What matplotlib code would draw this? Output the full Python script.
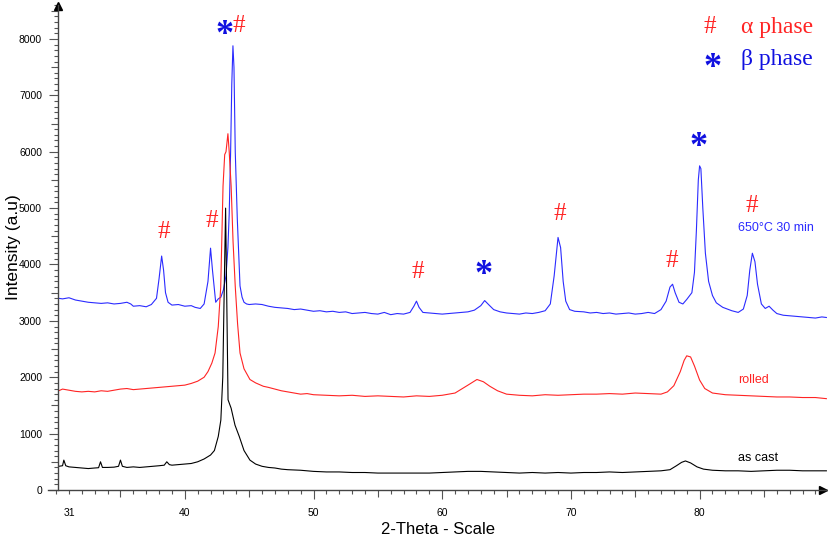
import matplotlib
matplotlib.use("Agg")
import matplotlib.pyplot as plt
from matplotlib.ticker import FixedLocator, MultipleLocator, FuncFormatter
from matplotlib.transforms import offset_copy

# XRD patterns (2-theta in degrees, intensity in a.u.)
heat_x = [30.2, 30.5, 31, 31.5, 32, 32.5, 33, 33.5, 34, 34.5, 35, 35.5, 35.8, 36, 36.5, 37,
          37.4, 37.8, 38.0, 38.2, 38.35, 38.5, 38.7, 39, 39.5, 40, 40.5, 40.8, 41.2, 41.5, 41.8,
          42.0, 42.15, 42.4, 42.6, 42.8, 43.0, 43.2, 43.35, 43.45, 43.56, 43.65, 43.74, 43.82,
          43.92, 44.08, 44.29, 44.45, 44.6, 44.8, 45, 45.5, 46, 46.5, 47, 47.5, 48, 48.5, 49,
          49.5, 50, 50.5, 51, 51.5, 52, 52.5, 53, 53.5, 54, 54.5, 55, 55.5, 56, 56.5, 57, 57.5,
          57.8, 58.0, 58.2, 58.5, 59, 59.5, 60, 60.5, 61, 61.5, 62, 62.5, 63, 63.3, 63.6, 64,
          64.5, 65, 65.5, 66, 66.5, 67, 67.5, 68, 68.4, 68.7, 69.0, 69.2, 69.4, 69.6, 69.9, 70.3,
          71, 71.5, 72, 72.5, 73, 73.5, 74, 74.5, 75, 75.5, 76, 76.5, 77, 77.4, 77.7, 77.9, 78.1,
          78.4, 78.7, 79.0, 79.4, 79.6, 79.75, 79.9, 80.0, 80.1, 80.25, 80.45, 80.7, 81, 81.3,
          81.8, 82.5, 83, 83.4, 83.7, 83.9, 84.1, 84.3, 84.5, 84.8, 85.1, 85.4, 85.7, 86, 86.5,
          87, 87.5, 88, 88.5, 89, 89.5, 89.85]
heat_y = [3400, 3390, 3410, 3370, 3350, 3330, 3320, 3310, 3320, 3300, 3310, 3330, 3300, 3260,
          3270, 3250, 3290, 3400, 3750, 4150, 3900, 3500, 3330, 3280, 3290, 3260, 3270, 3240,
          3220, 3300, 3700, 4290, 3900, 3330, 3390, 3420, 3550, 3800, 4300, 4900, 6000, 7200,
          7880, 7500, 6000, 4800, 3620, 3420, 3330, 3300, 3290, 3300, 3290, 3260, 3240, 3230,
          3220, 3200, 3210, 3190, 3170, 3180, 3160, 3170, 3150, 3160, 3130, 3140, 3150, 3130,
          3120, 3150, 3110, 3130, 3120, 3150, 3260, 3350, 3240, 3150, 3140, 3130, 3120, 3130,
          3140, 3150, 3160, 3190, 3270, 3360, 3290, 3200, 3160, 3140, 3130, 3120, 3140, 3130,
          3150, 3180, 3300, 3800, 4480, 4300, 3700, 3350, 3200, 3170, 3160, 3140, 3150, 3130,
          3140, 3120, 3130, 3140, 3120, 3130, 3150, 3130, 3200, 3350, 3600, 3650, 3500, 3330,
          3300, 3380, 3500, 3860, 4600, 5500, 5750, 5700, 5000, 4200, 3700, 3450, 3320, 3240,
          3180, 3150, 3210, 3450, 3900, 4200, 4050, 3650, 3300, 3220, 3260, 3190, 3130, 3100,
          3090, 3080, 3070, 3060, 3050, 3070, 3060]

rolled_x = [30.2, 30.5, 31, 31.5, 32, 32.5, 33, 33.5, 34, 34.5, 35, 35.5, 36, 36.5, 37, 37.5,
            38, 38.5, 39, 39.5, 40, 40.5, 41, 41.5, 41.8, 42.1, 42.35, 42.6, 42.79, 42.97, 43.1,
            43.2, 43.35, 43.45, 43.6, 43.75, 43.92, 44.1, 44.29, 44.6, 45.06, 45.5, 46.1, 46.5,
            47, 47.5, 48, 48.5, 49, 49.5, 50, 51, 52, 53, 54, 55, 56, 57, 58, 59, 60, 61, 61.5,
            62, 62.7, 63.2, 63.7, 64.3, 65, 66, 67, 68, 69, 70, 71, 72, 73, 74, 75, 76, 77, 77.5,
            78, 78.5, 78.8, 79.0, 79.3, 79.6, 80, 80.4, 81, 82, 83, 84, 85, 86, 87, 88, 89, 89.85]
rolled_y = [1760, 1790, 1770, 1750, 1740, 1750, 1740, 1760, 1750, 1770, 1790, 1800, 1780, 1790,
            1800, 1810, 1820, 1830, 1840, 1850, 1860, 1890, 1930, 2000, 2100, 2250, 2430, 2900,
            3600, 5390, 5950, 6000, 6320, 6000, 5390, 4400, 3610, 2950, 2430, 2150, 1960, 1900,
            1840, 1820, 1790, 1760, 1740, 1720, 1700, 1710, 1690, 1680, 1670, 1680, 1660, 1670,
            1660, 1650, 1670, 1660, 1680, 1720, 1790, 1860, 1960, 1920, 1840, 1760, 1700, 1680,
            1670, 1690, 1680, 1690, 1700, 1700, 1710, 1700, 1720, 1710, 1700, 1740, 1850, 2100,
            2300, 2380, 2360, 2200, 1950, 1800, 1720, 1690, 1680, 1670, 1660, 1650, 1650, 1640,
            1640, 1620]

cast_x = [30.2, 30.5, 30.6, 30.75, 31, 31.5, 32, 32.5, 33, 33.3, 33.45, 33.6, 34, 34.5, 34.85,
          35.0, 35.15, 35.5, 36, 36.5, 37, 37.5, 38, 38.4, 38.6, 38.8, 39, 39.5, 40, 40.5, 41,
          41.5, 42, 42.3, 42.6, 42.8, 42.95, 43.08, 43.17, 43.27, 43.36, 43.6, 43.9, 44.23, 44.6,
          45.06, 45.5, 46, 46.5, 47, 47.5, 48, 49, 50, 51, 52, 53, 54, 55, 56, 57, 58, 59, 60,
          61, 62, 63, 64, 65, 66, 67, 68, 69, 70, 71, 72, 73, 74, 75, 76, 77, 77.7, 78.2, 78.6,
          78.9, 79.3, 79.8, 80.3, 81, 82, 83, 84, 85, 86, 87, 88, 89, 89.85]
cast_y = [420, 430, 530, 430, 410, 400, 390, 380, 390, 395, 500, 400, 400, 405, 420, 530, 420,
          400, 410, 400, 410, 420, 430, 440, 500, 450, 440, 450, 460, 470, 500, 550, 620, 700,
          950, 1240, 2000, 3800, 5000, 3200, 1600, 1450, 1150, 950, 700, 530, 460, 420, 400, 390,
          370, 360, 350, 330, 320, 320, 310, 310, 300, 300, 300, 300, 300, 310, 320, 330, 330,
          320, 310, 300, 310, 300, 310, 300, 310, 310, 320, 310, 320, 330, 340, 360, 430, 490,
          515, 480, 410, 370, 350, 340, 340, 330, 340, 350, 350, 340, 340, 340]

# phase markers: (2-theta, intensity) where the symbol sits
alpha_x = [38.4, 42.1, 44.2, 58.1, 69.15, 77.85, 84.07]
alpha_y = [4570, 4770, 8230, 3875, 4890, 4070, 5036]
beta_x = [43.1, 63.25, 79.95]
beta_y = [8220, 3965, 6233]

blue = "#2b2bff"
red = "#ff2424"
star_blue = "#1010e0"

fig = plt.figure(figsize=(8.29, 5.46), dpi=100)
ax = fig.add_axes([0.0579, 0.1026, 0.9397, 0.8883])

ax.plot(heat_x, heat_y, color=blue, lw=0.8)
ax.plot(rolled_x, rolled_y, color=red, lw=0.8)
ax.plot(cast_x, cast_y, color="black", lw=0.8)

# the asterisk glyph sits high in its box, so push it down a little
star_tr = offset_copy(ax.transData, fig=fig, x=0, y=-6.5, units="points")

for x, y in zip(alpha_x, alpha_y):
    ax.text(x, y, "#", color=red, fontsize=18, family="Liberation Serif", ha="center", va="center")
for x, y in zip(beta_x, beta_y):
    ax.text(x, y, "*", color=star_blue, fontsize=26, family="Liberation Serif", weight="bold",
            ha="center", va="center", transform=star_tr)

ax.text(85.9, 4645, "650°C 30 min", color=blue, fontsize=9, family="Liberation Sans",
        ha="center", va="center")
ax.text(84.2, 1956, "rolled", color=red, fontsize=9, family="Liberation Sans", ha="center", va="center")
ax.text(84.56, 564, "as cast", color="black", fontsize=9, family="Liberation Sans", ha="center", va="center")

# legend written as text
ax.text(80.8, 8213, "#", color=red, fontsize=18, family="Liberation Serif", ha="center", va="center")
ax.text(83.19, 8213, "α phase", color=red, fontsize=17, family="Liberation Serif", ha="left", va="center")
ax.text(81.0, 7644, "*", color=star_blue, fontsize=26, family="Liberation Serif", weight="bold",
        ha="center", va="center", transform=star_tr)
ax.text(83.19, 7644, "β phase", color=star_blue, fontsize=17, family="Liberation Serif", ha="left", va="center")

ax.set_xlim(29.37, 89.9)
ax.set_ylim(0, 8604)

for s in ["top", "right"]:
    ax.spines[s].set_visible(False)
ax.spines["left"].set_position(("data", 30.15))
for s in ["left", "bottom"]:
    ax.spines[s].set_color("#444444")
    ax.spines[s].set_linewidth(1.0)

ax.plot(0.995, 0, ">", color="black", ms=6, transform=ax.get_yaxis_transform(), clip_on=False)
ax.plot(30.15, 0.998, "^", color="black", ms=6, transform=ax.get_xaxis_transform(), clip_on=False)

xmaj = [31, 35, 40, 45, 50, 55, 60, 65, 70, 75, 80, 85]
ax.xaxis.set_major_locator(FixedLocator(xmaj))
ax.xaxis.set_minor_locator(MultipleLocator(1))
ax.xaxis.set_major_formatter(FuncFormatter(lambda v, p: "%d" % v if (v == 31 or v % 10 == 0) else ""))
ax.yaxis.set_major_locator(MultipleLocator(500))
ax.yaxis.set_minor_locator(MultipleLocator(100))
ax.yaxis.set_major_formatter(FuncFormatter(lambda v, p: "%d" % v if v % 1000 == 0 else ""))

ax.tick_params(which="both", direction="out", color="#555555", width=0.8)
ax.tick_params(which="major", length=6.5, labelsize=7.5)
ax.tick_params(axis="x", which="major", pad=6.5)
ax.tick_params(axis="y", which="major", pad=5)
ax.tick_params(which="minor", length=2.9)
for lab in ax.get_xticklabels() + ax.get_yticklabels():
    lab.set_family("Liberation Sans")

for t, v in zip(ax.xaxis.get_major_ticks(), xmaj):
    if v == 31:
        t.tick1line.set_markersize(2.9)
    elif v % 10 != 0:
        t.tick1line.set_markersize(5)
for t, v in zip(ax.yaxis.get_major_ticks(), ax.yaxis.get_majorticklocs()):
    if v % 1000 != 0:
        t.tick1line.set_markersize(5)

ax.set_ylabel("Intensity (a.u)", fontsize=12.5, family="Liberation Sans")
ax.set_xlabel("2-Theta - Scale", fontsize=12, family="Liberation Sans")
ax.yaxis.set_label_coords(-0.0347, 0.5)
ax.xaxis.set_label_coords(0.5, -0.066)

fig.savefig("out.png", dpi=100)
